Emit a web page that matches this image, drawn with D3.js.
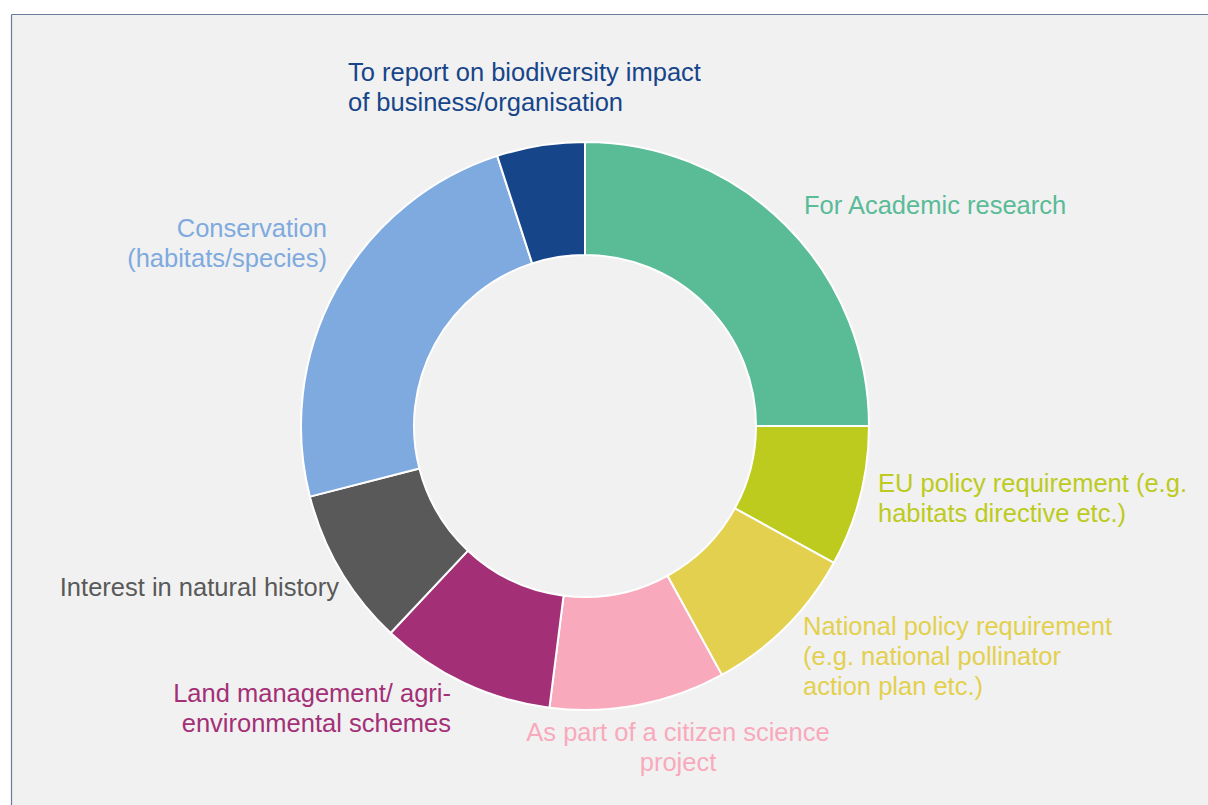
<!DOCTYPE html>
<html>
<head>
<meta charset="utf-8">
<script src="https://cdn.jsdelivr.net/npm/d3@7"></script>
<style>
  html, body { margin: 0; padding: 0; background: #ffffff; }
  svg { display: block; }
</style>
</head>
<body>
<svg id="chart" width="1208" height="805"></svg>
<script>
// Reasons for collecting pollinator data (share of responses, %)
const categories = [
  "For Academic research",
  "EU policy requirement (e.g. habitats directive etc.)",
  "National policy requirement (e.g. national pollinator action plan etc.)",
  "As part of a citizen science project",
  "Land management/ agri-environmental schemes",
  "Interest in natural history",
  "Conservation (habitats/species)",
  "To report on biodiversity impact of business/organisation"
];
const values = [25, 8, 9, 10, 10, 9, 24, 5];

// Label text, broken into lines as displayed
const labelLines = [
  ["For Academic research"],
  ["EU policy requirement (e.g.", "habitats directive etc.)"],
  ["National policy requirement", "(e.g. national pollinator", "action plan etc.)"],
  ["As part of a citizen science", "project"],
  ["Land management/ agri-", "environmental schemes"],
  ["Interest in natural history"],
  ["Conservation", "(habitats/species)"],
  ["To report on biodiversity impact", "of business/organisation"]
];

const colors = ["#5abb97", "#bccb1d", "#e3d04e", "#f8aabc", "#a33077", "#595959", "#7eaadf", "#174589"];

// Label placement relative to the donut centre: x, first baseline y, text-anchor
const labelLayout = [
  { dx: 219, dy: -212, anchor: "start" },
  { dx: 293, dy: 66, anchor: "start" },
  { dx: 218, dy: 209, anchor: "start" },
  { dx: 93, dy: 315, anchor: "middle" },
  { dx: -134, dy: 276, anchor: "end" },
  { dx: -246, dy: 170, anchor: "end" },
  { dx: -258, dy: -189, anchor: "end" },
  { dx: -237, dy: -345, anchor: "start" }
];

const W = 1208, H = 805;
const cx = 585, cy = 426;
const outerR = 284, innerR = 171;
const fontSize = 25.5, lineH = 30;

const svg = d3.select("#chart");

// Panel background with its frame
svg.append("rect").attr("x", 0).attr("y", 0).attr("width", W).attr("height", H).attr("fill", "#ffffff");
svg.append("rect").attr("x", 12).attr("y", 14.5).attr("width", W - 12).attr("height", H - 14.5).attr("fill", "#f1f1f1");
svg.append("line").attr("x1", 11.5).attr("x2", W).attr("y1", 14.5).attr("y2", 14.5)
  .attr("stroke", "#6b7a9c").attr("stroke-width", 1.2);
svg.append("line").attr("x1", 11.5).attr("x2", 11.5).attr("y1", 14.5).attr("y2", H)
  .attr("stroke", "#6b7a9c").attr("stroke-width", 1.2);

const data = categories.map((c, i) => ({ category: c, value: values[i], i }));

const pie = d3.pie().value(d => d.value).sort(null);
const arc = d3.arc().innerRadius(innerR).outerRadius(outerR);

const g = svg.append("g").attr("transform", `translate(${cx},${cy})`);

g.selectAll("path.slice")
  .data(pie(data))
  .join("path")
  .attr("class", "slice")
  .attr("d", arc)
  .attr("fill", d => colors[d.data.i])
  .attr("stroke", "#ffffff")
  .attr("stroke-width", 2)
  .attr("stroke-linejoin", "round");

const labels = g.selectAll("text.label")
  .data(data)
  .join("text")
  .attr("class", "label")
  .attr("x", d => labelLayout[d.i].dx)
  .attr("y", d => labelLayout[d.i].dy)
  .attr("text-anchor", d => labelLayout[d.i].anchor)
  .attr("fill", d => colors[d.i])
  .style("font-family", "'Liberation Sans', Arial, sans-serif")
  .style("font-size", fontSize + "px");

labels.selectAll("tspan")
  .data(d => labelLines[d.i].map((t, k) => ({ t, k, d })))
  .join("tspan")
  .attr("x", o => labelLayout[o.d.i].dx)
  .attr("dy", o => o.k === 0 ? 0 : lineH)
  .text(o => o.t);
</script>
</body>
</html>
